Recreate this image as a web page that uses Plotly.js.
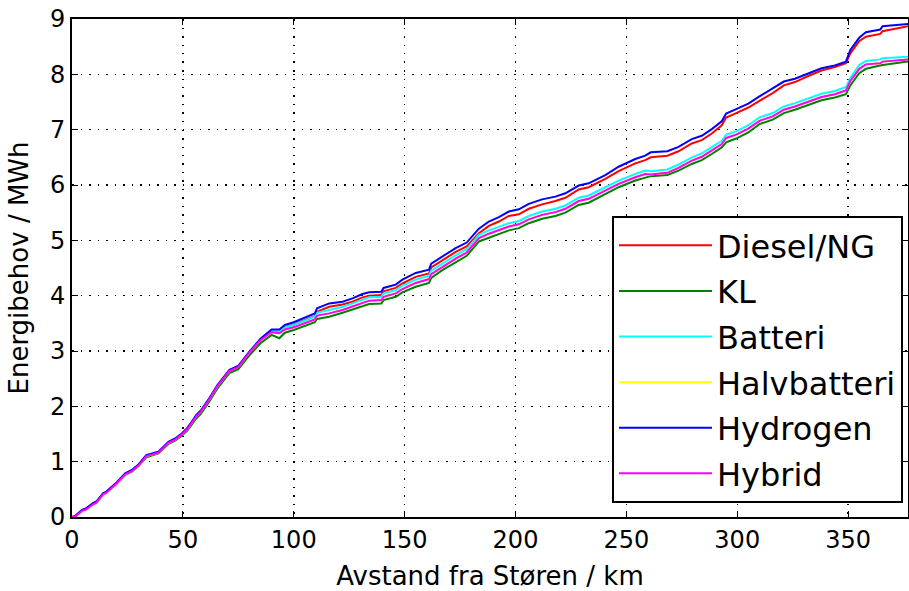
<!DOCTYPE html>
<html>
<head>
<meta charset="utf-8">
<script src="https://cdn.plot.ly/plotly-3.0.1.min.js"></script>
<style>html,body{margin:0;padding:0;background:#fff;}#chart{width:909px;height:591px;}</style>
</head>
<body>
<div id="chart"></div>
<script>
const distance = [0, 1.5, 4.5, 6.5, 9.5, 11, 14, 15.5, 20, 24, 27, 30, 33.5, 36, 39, 43.5, 46.5, 49.5, 52, 54, 56, 58, 61.5, 65.5, 69, 71, 75, 80, 85, 90, 93.5, 96, 100, 105.5, 109.5, 110.5, 116, 122, 126.5, 131, 134, 139.5, 140.5, 146, 149, 155, 161, 162, 167, 173, 178, 183.5, 188, 192.5, 197, 201.5, 206, 212, 218, 222.5, 228.5, 233, 240.5, 246.5, 254, 258.5, 261, 268.5, 273.5, 279.5, 284, 288.5, 293, 295, 299.5, 305, 310, 316, 321, 326, 332, 338, 344, 349, 351, 355, 358, 364.5, 365.5, 377];

const hydrogen = [0, 0.02, 0.13, 0.16, 0.25, 0.28, 0.43, 0.46, 0.62, 0.79, 0.85, 0.95, 1.12, 1.15, 1.18, 1.36, 1.42, 1.51, 1.61, 1.72, 1.84, 1.92, 2.12, 2.38, 2.55, 2.66, 2.73, 2.99, 3.22, 3.39, 3.39, 3.47, 3.52, 3.62, 3.68, 3.77, 3.86, 3.89, 3.95, 4.03, 4.06, 4.07, 4.14, 4.20, 4.29, 4.41, 4.47, 4.58, 4.71, 4.86, 4.96, 5.21, 5.34, 5.42, 5.52, 5.56, 5.66, 5.74, 5.79, 5.85, 5.99, 6.03, 6.18, 6.33, 6.47, 6.53, 6.59, 6.61, 6.69, 6.83, 6.89, 7.01, 7.15, 7.29, 7.37, 7.47, 7.60, 7.75, 7.87, 7.92, 8.02, 8.11, 8.16, 8.23, 8.44, 8.66, 8.76, 8.81, 8.87, 8.91];

const diesel = [0, 0.02, 0.12, 0.15, 0.24, 0.27, 0.42, 0.45, 0.61, 0.78, 0.84, 0.94, 1.10, 1.13, 1.17, 1.34, 1.40, 1.49, 1.58, 1.69, 1.80, 1.88, 2.08, 2.34, 2.52, 2.63, 2.70, 2.96, 3.19, 3.36, 3.35, 3.43, 3.48, 3.57, 3.63, 3.71, 3.80, 3.84, 3.89, 3.97, 4.00, 4.01, 4.08, 4.14, 4.22, 4.34, 4.40, 4.51, 4.64, 4.79, 4.89, 5.13, 5.26, 5.34, 5.44, 5.47, 5.57, 5.65, 5.71, 5.77, 5.92, 5.96, 6.11, 6.25, 6.39, 6.45, 6.50, 6.53, 6.61, 6.75, 6.81, 6.93, 7.08, 7.22, 7.30, 7.40, 7.52, 7.66, 7.80, 7.86, 7.97, 8.07, 8.13, 8.20, 8.38, 8.60, 8.68, 8.73, 8.78, 8.87];

const kl = [0, 0.01, 0.12, 0.15, 0.23, 0.26, 0.41, 0.44, 0.60, 0.76, 0.82, 0.92, 1.08, 1.11, 1.15, 1.32, 1.38, 1.47, 1.56, 1.67, 1.78, 1.86, 2.06, 2.32, 2.49, 2.60, 2.67, 2.92, 3.14, 3.29, 3.23, 3.33, 3.38, 3.46, 3.52, 3.58, 3.62, 3.69, 3.75, 3.81, 3.85, 3.86, 3.92, 3.98, 4.06, 4.16, 4.23, 4.32, 4.46, 4.60, 4.72, 4.98, 5.05, 5.11, 5.18, 5.22, 5.31, 5.39, 5.44, 5.50, 5.64, 5.68, 5.83, 5.96, 6.08, 6.14, 6.16, 6.18, 6.26, 6.38, 6.45, 6.56, 6.68, 6.77, 6.84, 6.95, 7.10, 7.18, 7.30, 7.36, 7.45, 7.53, 7.58, 7.64, 7.80, 8.02, 8.10, 8.15, 8.17, 8.23];

const batteri = [0, 0.02, 0.12, 0.15, 0.24, 0.27, 0.42, 0.45, 0.61, 0.78, 0.84, 0.94, 1.11, 1.14, 1.17, 1.35, 1.41, 1.50, 1.60, 1.71, 1.83, 1.91, 2.11, 2.37, 2.54, 2.65, 2.72, 2.98, 3.21, 3.37, 3.36, 3.43, 3.47, 3.56, 3.62, 3.69, 3.74, 3.80, 3.86, 3.93, 3.97, 3.98, 4.04, 4.10, 4.18, 4.29, 4.36, 4.45, 4.58, 4.73, 4.84, 5.10, 5.18, 5.24, 5.31, 5.35, 5.44, 5.52, 5.57, 5.63, 5.77, 5.81, 5.96, 6.08, 6.20, 6.26, 6.25, 6.28, 6.37, 6.50, 6.57, 6.68, 6.80, 6.91, 6.97, 7.08, 7.22, 7.30, 7.42, 7.48, 7.57, 7.65, 7.70, 7.77, 7.94, 8.17, 8.24, 8.27, 8.29, 8.32];

const halvbatteri = [0, 0.01, 0.11, 0.14, 0.23, 0.26, 0.41, 0.44, 0.60, 0.77, 0.83, 0.93, 1.10, 1.13, 1.16, 1.34, 1.40, 1.49, 1.59, 1.70, 1.82, 1.90, 2.10, 2.36, 2.53, 2.64, 2.71, 2.97, 3.20, 3.34, 3.32, 3.39, 3.43, 3.51, 3.57, 3.64, 3.68, 3.74, 3.80, 3.87, 3.91, 3.92, 3.98, 4.04, 4.12, 4.23, 4.30, 4.39, 4.52, 4.67, 4.78, 5.04, 5.12, 5.18, 5.25, 5.29, 5.38, 5.46, 5.51, 5.57, 5.71, 5.75, 5.90, 6.02, 6.14, 6.20, 6.19, 6.22, 6.31, 6.44, 6.51, 6.62, 6.74, 6.85, 6.91, 7.02, 7.16, 7.24, 7.36, 7.42, 7.51, 7.59, 7.64, 7.71, 7.88, 8.10, 8.18, 8.20, 8.23, 8.27];

const hybrid = [0, 0.01, 0.11, 0.14, 0.23, 0.26, 0.41, 0.44, 0.60, 0.77, 0.83, 0.93, 1.10, 1.13, 1.16, 1.34, 1.40, 1.49, 1.59, 1.70, 1.82, 1.90, 2.10, 2.36, 2.53, 2.64, 2.71, 2.97, 3.20, 3.34, 3.32, 3.39, 3.43, 3.51, 3.57, 3.64, 3.68, 3.74, 3.80, 3.87, 3.91, 3.92, 3.98, 4.04, 4.12, 4.23, 4.30, 4.39, 4.52, 4.67, 4.78, 5.04, 5.12, 5.18, 5.25, 5.29, 5.38, 5.46, 5.51, 5.57, 5.71, 5.75, 5.90, 6.02, 6.14, 6.20, 6.19, 6.22, 6.31, 6.44, 6.51, 6.62, 6.74, 6.85, 6.91, 7.02, 7.16, 7.24, 7.36, 7.42, 7.51, 7.59, 7.64, 7.71, 7.88, 8.10, 8.18, 8.20, 8.23, 8.27];

const seriesNames = ['Diesel/NG', 'KL', 'Batteri', 'Halvbatteri', 'Hydrogen', 'Hybrid'];
const seriesColors = ['#ff0000', '#008000', '#00ffff', '#ffff00', '#0000ff', '#ff00ff'];
const seriesValues = [diesel, kl, batteri, halvbatteri, hydrogen, hybrid];

const xTicks = [0, 50, 100, 150, 200, 250, 300, 350];
const yTicks = [0, 1, 2, 3, 4, 5, 6, 7, 8, 9];

const traces = seriesNames.map((name, i) => ({
  type: 'scatter', mode: 'lines', name: name,
  x: distance, y: seriesValues[i],
  line: {color: seriesColors[i], width: 2},
  legendgroup: 'g' + i
}));

const axisCommon = {
  showline: true, linecolor: '#000', linewidth: 2, mirror: 'ticks',
  ticks: 'inside', ticklen: 6, tickwidth: 1, tickcolor: '#000',
  showgrid: true, gridcolor: '#000', gridwidth: 1.5, griddash: '1.5px,7px',
  zeroline: false,
  tickfont: {family: 'DejaVu Sans', size: 24, color: '#000'}
};

const layout = {
  width: 909, height: 591,
  margin: {l: 72, r: 1, t: 19, b: 74},
  paper_bgcolor: '#fff', plot_bgcolor: '#fff',
  showlegend: true,
  xaxis: Object.assign({}, axisCommon, {
    range: [0, 377], tickvals: xTicks, ticktext: xTicks.map(String),
    title: {text: 'Avstand fra Støren / km', font: {family: 'DejaVu Sans', size: 26, color: '#000'}, standoff: 14}
  }),
  yaxis: Object.assign({}, axisCommon, {
    range: [0, 9], tickvals: yTicks, ticktext: yTicks.map(String),
    title: {text: 'Energibehov / MWh', font: {family: 'DejaVu Sans', size: 26, color: '#000'}, standoff: 14}
  }),
  legend: {
    x: 0.994, y: 0.028, xanchor: 'right', yanchor: 'bottom',
    bgcolor: '#fff', bordercolor: '#000', borderwidth: 2,
    font: {family: 'DejaVu Sans', size: 32, color: '#000'},
    tracegroupgap: 1, itemwidth: 93
  }
};

Plotly.newPlot('chart', traces, layout, {displayModeBar: false, staticPlot: true});
</script>
</body>
</html>
